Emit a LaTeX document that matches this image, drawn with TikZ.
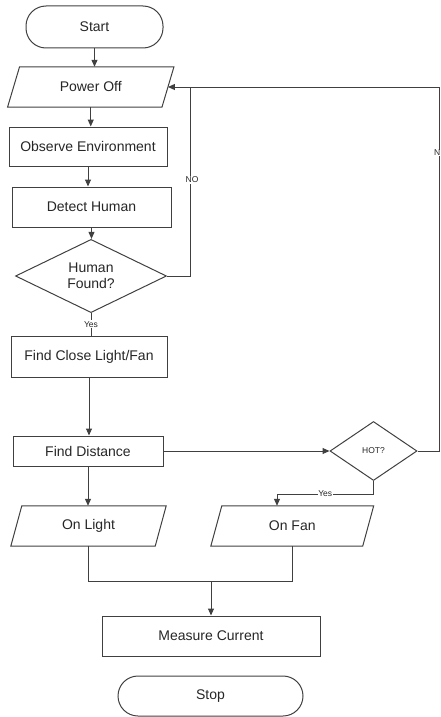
\documentclass[tikz,border=0pt]{standalone}
\usepackage{fontspec}
\setmainfont{Liberation Sans}
\usetikzlibrary{arrows.meta,shapes.geometric,calc}
\begin{document}
\begin{tikzpicture}[x=1pt,y=-1pt,
  every node/.style={text=black!85},
  ln/.style={draw=black!75,line width=1pt},
  arr/.style={ln,-{Triangle[length=7pt,width=6pt]}},
  big/.style={font=\fontsize{14}{16}\selectfont},
  small/.style={font=\fontsize{8.5}{10}\selectfont},
  term/.style={big,draw=black!75,line width=1pt,rounded corners=20pt,inner sep=0pt},
  proc/.style={big,draw=black!75,line width=1pt,inner sep=0pt},
  para/.style={big,inner sep=0pt,minimum height=40pt},
  dec/.style={draw=black!75,line width=1pt,diamond,inner sep=0pt,align=center},
  lbl/.style={small,fill=white,inner sep=1pt}
]
\useasboundingbox (0,0) rectangle (441,717);

% nodes
\node[term,minimum width=137pt,minimum height=42pt] (start) at (94.5,27) {Start};
\node[para,minimum width=154pt] (poff) at (90.75,87) {Power Off};
\draw[ln] ([xshift=6pt]poff.north west) -- ([xshift=6pt]poff.north east) -- ([xshift=-6pt]poff.south east) -- ([xshift=-6pt]poff.south west) -- cycle;
\node[proc,minimum width=158pt,minimum height=39pt] (obs) at (88,146.5) {Observe Environment};
\node[proc,minimum width=159pt,minimum height=40pt] (det) at (91.5,207) {Detect Human};
\node[dec,big,minimum width=151pt,minimum height=59pt] (hf) at (91,276) {Human\\Found?};
\node[proc,minimum width=156pt,minimum height=41pt] (fc) at (89,356.5) {Find Close Light/Fan};
\node[proc,minimum width=150pt,minimum height=30pt] (fd) at (88,451) {Find Distance};
\node[dec,small,minimum width=87pt,minimum height=59pt] (hot) at (373.5,451) {HOT?};
\node[para,minimum width=144pt] (ol) at (88.5,526) {On Light};
\draw[ln] ([xshift=5.5pt]ol.north west) -- ([xshift=5.5pt]ol.north east) -- ([xshift=-5.5pt]ol.south east) -- ([xshift=-5.5pt]ol.south west) -- cycle;
\node[para,minimum width=151.5pt] (of) at (292.25,526) {On Fan};
\draw[ln] ([xshift=5.5pt]of.north west) -- ([xshift=5.5pt]of.north east) -- ([xshift=-5.5pt]of.south east) -- ([xshift=-5.5pt]of.south west) -- cycle;
\node[proc,minimum width=218pt,minimum height=40pt] (ms) at (211,636) {Measure Current};
\node[term,minimum width=185pt,minimum height=40pt] (stop) at (210.5,696) {Stop};

% helper coordinates
\coordinate (nx) at (190,0);
\coordinate (rx) at (439.5,0);
\coordinate (yj) at (277,494);
\coordinate (jn) at (211,581);

% connectors
\draw[arr] (start.south) -- (start.south |- poff.north);
\draw[arr] (poff.south) -- (poff.south |- obs.north);
\draw[arr] (obs.south) -- (obs.south |- det.north);
\draw[arr] (det.south) -- (det.south |- hf.north);
\draw[ln] (hf.south) -- node[lbl,pos=0.5]{Yes} (hf.south |- fc.north);
\draw[arr] (fc.south) -- (fc.south |- fd.north);
\draw[arr] (fd.east) -- (hot.west);
\draw[arr] (hot.east) -- (hot.east -| rx) -- (rx |- poff.east) -- (poff.east);
\node[lbl,anchor=east,inner sep=0.5pt] (nlab) at (441,153) {N};
\draw[ln] (hf.east) -- (hf.east -| nx) -- (nx |- poff.east);
\node[lbl] (nolab) at (192,180) {NO};
\draw[arr] (fd.south) -- (fd.south |- ol.north);
\draw[arr] (hot.south) -- (hot.south |- yj) -- node[lbl,pos=0.5,inner sep=0.5pt]{Yes} (yj) -- (yj |- of.north);
\draw[ln] (ol.south) -- (ol.south |- jn) -- (of.south |- jn) -- (of.south);
\draw[arr] (jn) -- (ms.north);
\end{tikzpicture}
\end{document}
